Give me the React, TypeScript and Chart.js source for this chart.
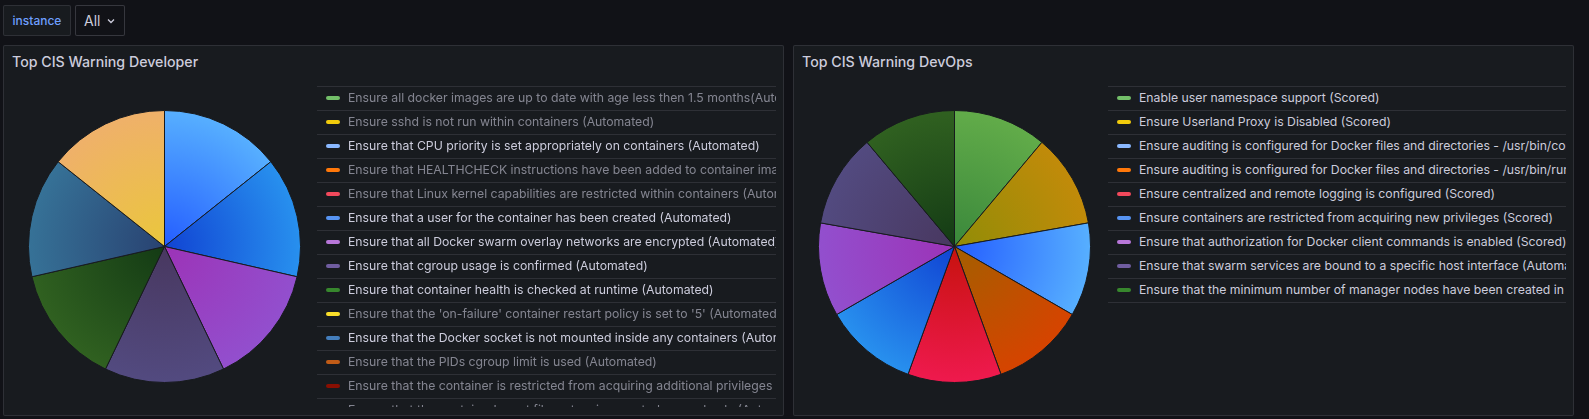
import React, { useEffect, useRef } from "react";
import { Chart, registerables } from "chart.js";

Chart.register(...registerables);

// ---------- DATA ----------
const devLabels = [
  "Ensure all docker images are up to date with age less then 1.5 months(Automated)",
  "Ensure sshd is not run within containers (Automated)",
  "Ensure that CPU priority is set appropriately on containers (Automated)",
  "Ensure that HEALTHCHECK instructions have been added to container images (Automated)",
  "Ensure that Linux kernel capabilities are restricted within containers (Automated)",
  "Ensure that a user for the container has been created (Automated)",
  "Ensure that all Docker swarm overlay networks are encrypted (Automated)",
  "Ensure that cgroup usage is confirmed (Automated)",
  "Ensure that container health is checked at runtime (Automated)",
  "Ensure that the 'on-failure' container restart policy is set to '5' (Automated)",
  "Ensure that the Docker socket is not mounted inside any containers (Automated)",
  "Ensure that the PIDs cgroup limit is used (Automated)",
  "Ensure that the container is restricted from acquiring additional privileges (Automated)",
  "Ensure that the container's root filesystem is mounted as read only (Automated)",
  "Ensure that the host's IPC namespace is not shared (Automated)",
  "Ensure that the host's network namespace is not shared (Automated)",
  "Ensure that the host's process namespace is not shared (Automated)",
  "Ensure that the memory usage for containers is limited (Automated)",
];
const devValues = [1, 1, 1, 1, 1, 1, 1, 1, 1, 1, 1, 1, 1, 1, 1, 1, 1, 1];
const devShown = [false, false, true, false, false, true, true, true, true, false, true, false, false, false, false, false, false, true];

const opsLabels = [
  "Enable user namespace support (Scored)",
  "Ensure Userland Proxy is Disabled (Scored)",
  "Ensure auditing is configured for Docker files and directories - /usr/bin/containerd (Scored)",
  "Ensure auditing is configured for Docker files and directories - /usr/bin/runc (Scored)",
  "Ensure centralized and remote logging is configured (Scored)",
  "Ensure containers are restricted from acquiring new privileges (Scored)",
  "Ensure that authorization for Docker client commands is enabled (Scored)",
  "Ensure that swarm services are bound to a specific host interface (Automated)",
  "Ensure that the minimum number of manager nodes have been created in a swarm (Automated)",
];
const opsValues = [1, 1, 1, 1, 1, 1, 1, 1, 1];
const opsShown = [true, true, true, true, true, true, true, true, true];

// ---------- STYLE ----------
const palette = [
  "#73BF69", "#F2CC0C", "#8AB8FF", "#FF780A", "#F2495C", "#5794F2",
  "#B877D9", "#705DA0", "#37872D", "#FADE2A", "#447EBC", "#C15C17",
  "#890F02", "#0A437C", "#6D1F62", "#584477", "#B7DBAB", "#F4D598",
];

const FONT = "Inter, 'Noto Sans', sans-serif";
const PAGE_BG = "#111217";
const PANEL_BG = "#181b1f";
const BORDER = "rgba(204,204,220,0.12)";
const TEXT = "#ccccdc";
const TEXT_DIM = "rgba(204,204,220,0.6)";

function hexToHsl(hex: string) {
  const r = parseInt(hex.slice(1, 3), 16) / 255;
  const g = parseInt(hex.slice(3, 5), 16) / 255;
  const b = parseInt(hex.slice(5, 7), 16) / 255;
  const max = Math.max(r, g, b), min = Math.min(r, g, b);
  let h = 0, s = 0;
  const l = (max + min) / 2;
  if (max !== min) {
    const d = max - min;
    s = l > 0.5 ? d / (2 - max - min) : d / (max + min);
    if (max === r) h = (g - b) / d + (g < b ? 6 : 0);
    else if (max === g) h = (b - r) / d + 2;
    else h = (r - g) / d + 4;
    h *= 60;
  }
  return { h, s, l };
}

function shade(hex: string, darken: number, spin: number) {
  const c = hexToHsl(hex);
  let h = (c.h + spin) % 360;
  if (h < 0) h += 360;
  const l = Math.min(1, Math.max(0, c.l - darken / 100));
  return `hsl(${h.toFixed(2)}, ${(c.s * 100).toFixed(2)}%, ${(l * 100).toFixed(2)}%)`;
}

function sliceFill(ctx: any, colors: string[]) {
  const i = ctx.dataIndex;
  const base = colors[i === undefined ? 0 : i];
  const chart = ctx.chart;
  const area = chart.chartArea;
  if (!area || i === undefined) return base;
  const cx = (area.left + area.right) / 2;
  const cy = (area.top + area.bottom) / 2;
  const r = Math.max(1, Math.min(area.right - area.left, area.bottom - area.top) / 2);
  const g = chart.ctx.createRadialGradient(cx, cy, 0, cx, cy, r);
  g.addColorStop(0, shade(base, 20, 8));
  g.addColorStop(1, shade(base, 10, -8));
  return g;
}

function PieCanvas(props: { labels: string[]; values: number[]; shown: boolean[]; colors: string[]; left: number; top: number; width: number; height: number }) {
  const ref = useRef<HTMLCanvasElement | null>(null);
  useEffect(() => {
    if (!ref.current) return;
    const chart = new Chart(ref.current, {
      type: "pie",
      data: {
        labels: props.labels,
        datasets: [
          {
            data: props.values,
            backgroundColor: (ctx: any) => sliceFill(ctx, props.colors),
            borderColor: PANEL_BG,
            borderWidth: 1,
          },
        ],
      },
      options: {
        responsive: false,
        animation: false,
        events: [],
        layout: { padding: 0 },
        plugins: { legend: { display: false }, tooltip: { enabled: false } },
      },
    });
    props.shown.forEach((s, i) => {
      if (!s) chart.toggleDataVisibility(i);
    });
    chart.update();
    return () => chart.destroy();
  }, []);
  return (
    <canvas
      ref={ref}
      width={props.width}
      height={props.height}
      style={{ position: "absolute", left: props.left, top: props.top, width: props.width, height: props.height }}
    />
  );
}

function Legend(props: { labels: string[]; shown: boolean[]; colors: string[]; left: number; top: number; width: number; height: number }) {
  return (
    <div
      style={{
        position: "absolute",
        left: props.left,
        top: props.top,
        width: props.width,
        height: props.height,
        overflow: "hidden",
        borderTop: `1px solid ${BORDER}`,
        boxSizing: "border-box",
      }}
    >
      {props.labels.map((lab, i) => (
        <div
          key={i}
          style={{
            height: 23,
            borderBottom: `1px solid ${BORDER}`,
            display: "flex",
            alignItems: "center",
            whiteSpace: "nowrap",
            overflow: "hidden",
          }}
        >
          <div style={{ width: 14, height: 4, borderRadius: 2, background: props.colors[i], marginLeft: 9, flex: "0 0 auto", position: "relative", top: -1 }} />
          <span
            style={{
              marginLeft: 8,
              fontFamily: FONT,
              fontSize: 12.25,
              color: props.shown[i] ? TEXT : TEXT_DIM,
              lineHeight: "22px",
              position: "relative",
              top: -1,
            }}
          >
            {lab}
          </span>
        </div>
      ))}
    </div>
  );
}

function Panel(props: { left: number; title: string; children?: any }) {
  return (
    <>
      <div
        style={{
          position: "absolute",
          left: props.left,
          top: 45,
          width: 781,
          height: 371,
          background: PANEL_BG,
          border: `1px solid ${BORDER}`,
          borderRadius: 2,
          boxSizing: "border-box",
        }}
      />
      <div
        style={{
          position: "absolute",
          left: props.left + 9,
          top: 51,
          height: 22,
          lineHeight: "22px",
          fontFamily: FONT,
          fontSize: 14.2,
          fontWeight: 500,
          color: TEXT,
          whiteSpace: "nowrap",
        }}
      >
        {props.title}
      </div>
      {props.children}
    </>
  );
}

export default function App() {
  useEffect(() => {
    document.body.style.margin = "0";
    document.body.style.background = PAGE_BG;
  }, []);
  return (
    <div style={{ position: "relative", width: 1589, height: 419, background: PAGE_BG, overflow: "hidden" }}>
      {/* variable selector */}
      <div
        style={{
          position: "absolute",
          left: 3,
          top: 5,
          width: 68,
          height: 31,
          boxSizing: "border-box",
          background: PANEL_BG,
          border: `1px solid ${BORDER}`,
          borderRadius: 2,
          color: "#6E9FFF",
          fontFamily: FONT,
          fontSize: 12,
          fontWeight: 500,
          lineHeight: "29px",
          textAlign: "center",
        }}
      >
        instance
      </div>
      <div
        style={{
          position: "absolute",
          left: 75,
          top: 5,
          width: 50,
          height: 31,
          boxSizing: "border-box",
          background: PAGE_BG,
          border: "1px solid rgba(204,204,220,0.2)",
          borderRadius: 2,
          color: TEXT,
          fontFamily: FONT,
          fontSize: 14,
          lineHeight: "29px",
        }}
      >
        <span style={{ position: "absolute", left: 8 }}>All</span>
        <svg width="8" height="6" viewBox="0 0 8 6" style={{ position: "absolute", left: 31, top: 12 }}>
          <path d="M1 1.5 L4 4.5 L7 1.5" stroke={TEXT} strokeWidth="1.3" fill="none" />
        </svg>
      </div>

      <Panel left={3} title="Top CIS Warning Developer">
        <PieCanvas labels={devLabels} values={devValues} shown={devShown} colors={palette} left={11} top={110} width={307} height={273} />
        <Legend labels={devLabels} shown={devShown} colors={palette} left={317} top={86} width={459} height={321} />
      </Panel>

      <Panel left={793} title="Top CIS Warning DevOps">
        <PieCanvas labels={opsLabels} values={opsValues} shown={opsShown} colors={palette} left={801} top={110} width={307} height={273} />
        <Legend labels={opsLabels} shown={opsShown} colors={palette} left={1108} top={86} width={458} height={321} />
      </Panel>
    </div>
  );
}
